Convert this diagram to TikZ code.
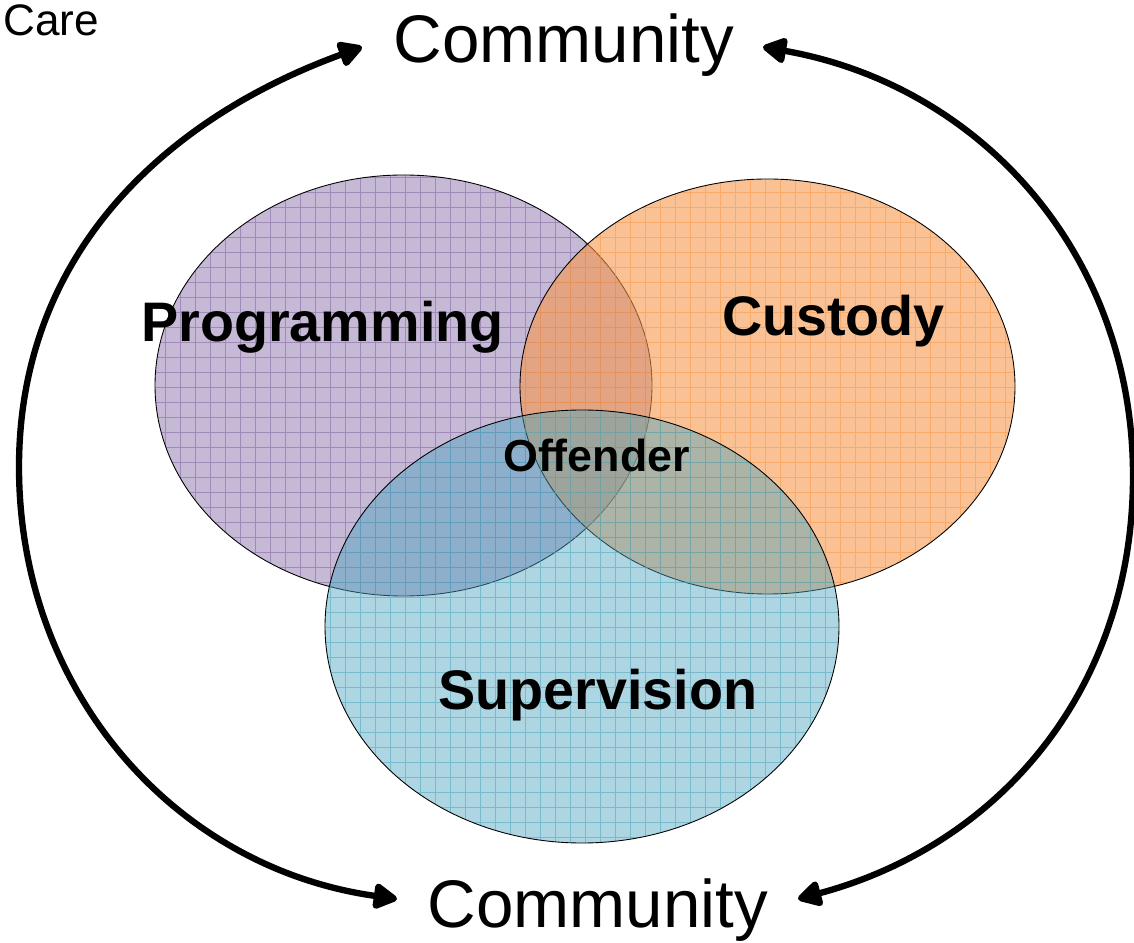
\documentclass[tikz,border=0pt]{standalone}
\usepackage{fontspec}
\setmainfont{Liberation Sans}
\usetikzlibrary{arrows.meta}
\definecolor{progpurple}{RGB}{128,100,162}
\definecolor{custorange}{RGB}{247,150,70}
\definecolor{supteal}{RGB}{75,165,190}
\begin{document}
\begin{tikzpicture}[
    areaname/.style={inner sep=0pt, anchor=base, font=\bfseries\fontsize{31.7}{36}\selectfont},
    placename/.style={inner sep=0pt, anchor=base, font=\fontsize{38.3}{44}\selectfont},
    returnarrow/.style={line width=3.6pt, {Triangle[length=5.4mm,width=5.6mm,round]}-{Triangle[length=5.4mm,width=5.6mm,round]}},
    gridline/.style={line width=0.5pt, draw opacity=0.55},
    rim/.style={line width=0.5pt}
  ]
  \useasboundingbox (0,0) rectangle (22.68,18.84);
  \begin{scope}
    \fill[progpurple, fill opacity=0.45] (8.07,11.13) ellipse (4.97 and 4.21);
    \clip (8.07,11.13) ellipse (4.97 and 4.21);
    \draw[gridline, progpurple, step=0.3] (2.7,6.6) grid (13.2,15.6);
  \end{scope}
  \draw[rim] (8.07,11.13) ellipse (4.97 and 4.21);
  \begin{scope}
    \fill[custorange, fill opacity=0.58] (15.35,11.11) ellipse (4.95 and 4.15);
    \clip (15.35,11.11) ellipse (4.95 and 4.15);
    \draw[gridline, custorange, step=0.3] (10.2,6.9) grid (20.4,15.3);
  \end{scope}
  \draw[rim] (15.35,11.11) ellipse (4.95 and 4.15);
  \begin{scope}
    \fill[supteal, fill opacity=0.45] (11.64,6.31) ellipse (5.14 and 4.33);
    \clip (11.64,6.31) ellipse (5.14 and 4.33);
    \draw[gridline, supteal, step=0.3] (6.3,1.8) grid (16.8,10.8);
  \end{scope}
  \draw[rim] (11.64,6.31) ellipse (5.14 and 4.33);
  \draw
    (6.45,12.00) node[areaname] (prog){Programming}
    (16.67,12.12) node[areaname] (cust){Custody}
    (11.96,4.64) node[areaname] (sup){Supervision}
    (11.93,9.40) node[areaname, font=\bfseries\fontsize{25.5}{30}\selectfont] (off){Offender}
    (11.28,17.58) node[placename] (commtop){Community}
    (11.96,0.30) node[placename] (commbot){Community}
    (0.06,18.13) node[inner sep=0pt, anchor=base west, font=\fontsize{25.1}{30}\selectfont] (care){Care};
  \coordinate (lt) at (7.24,17.90);
  \coordinate (lm) at (0.38,9.50);
  \coordinate (lb) at (7.94,0.86);
  \coordinate (rt) at (15.26,17.90);
  \coordinate (rm) at (22.66,9.32);
  \coordinate (rb) at (15.96,0.86);
  \begin{scope}[returnarrow]
    \draw (lt) to[out=200, in=90] (lm) to[out=-90, in=172] (lb);
    \draw (rt) to[out=-10, in=90] (rm) to[out=-90, in=15] (rb);
  \end{scope}
\end{tikzpicture}
\end{document}
